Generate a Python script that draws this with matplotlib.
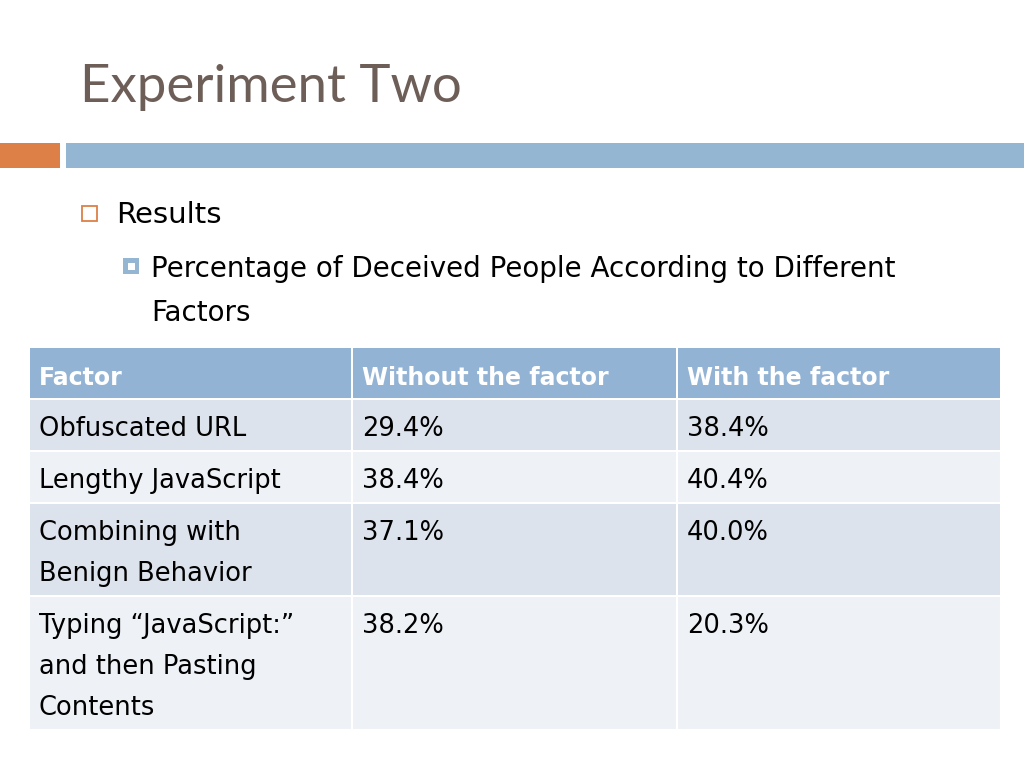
import matplotlib.pyplot as plt
from matplotlib.patches import Rectangle

# --- Data ---
title = "Experiment Two"
bullet1 = "Results"
bullet2 = ["Percentage of Deceived People According to Different", "Factors"]
headers = ["Factor", "Without the factor", "With the factor"]
factors = ["Obfuscated URL", "Lengthy JavaScript", "Combining with\nBenign Behavior",
           "Typing \u201cJavaScript:\u201d\nand then Pasting\nContents"]
without_factor = [29.4, 38.4, 37.1, 38.2]
with_factor = [38.4, 40.4, 40.0, 20.3]

# --- Styling ---
plt.rcParams['font.family'] = ["DejaVu Sans"]
TITLE_FONT = ["Lato", "DejaVu Sans"]
ORANGE = "#DD8047"
BLUE = "#94B6D2"
HEAD = "#93B3D4"
ROW_A = "#DCE3EC"
ROW_B = "#EEF2F7"
TITLE_C = "#6E5E58"

fig = plt.figure(figsize=(10.24, 7.68), dpi=100)
ax = fig.add_axes([0, 0, 1, 1])
ax.set_xlim(0, 1024)
ax.set_ylim(768, 0)
ax.axis('off')

# title and bars
ax.text(80, 102, title, fontsize=38, color=TITLE_C, va='baseline', ha='left', family=TITLE_FONT)
ax.add_patch(Rectangle((0, 143), 60, 25, color=ORANGE, lw=0))
ax.add_patch(Rectangle((66, 143), 958, 25, color=BLUE, lw=0))

# bullets
ax.add_patch(Rectangle((82, 206), 15, 15, fill=False, ec=ORANGE, lw=1.3))
ax.text(116, 223, bullet1, fontsize=21, va='baseline', ha='left')
ax.add_patch(Rectangle((123, 258), 16, 16, color=BLUE, lw=0))
ax.add_patch(Rectangle((127.5, 262.5), 7, 7, color='white', lw=0))
for i, line in enumerate(bullet2):
    ax.text(151, 277 + i * 44, line, fontsize=20, va='baseline', ha='left')

# table
col_x = [30, 353, 678, 1002]
gap = 2
top = 348
head_h = 50
for c, h in enumerate(headers):
    ax.add_patch(Rectangle((col_x[c], top), col_x[c + 1] - col_x[c] - gap, head_h, color=HEAD, lw=0))
    ax.text(col_x[c] + 9, top + 37, h, fontsize=17, fontweight='bold', color='white',
            va='baseline', ha='left')

y = top + head_h + gap
for r, name in enumerate(factors):
    n_lines = name.count("\n") + 1
    row_h = 9 + 41 * n_lines
    color = ROW_A if r % 2 == 0 else ROW_B
    cells = [name, f"{without_factor[r]:.1f}%", f"{with_factor[r]:.1f}%"]
    for c, txt in enumerate(cells):
        ax.add_patch(Rectangle((col_x[c], y), col_x[c + 1] - col_x[c] - gap, row_h, color=color, lw=0))
        for k, line in enumerate(txt.split("\n")):
            ax.text(col_x[c] + 9, y + 36 + k * 41, line, fontsize=18.5, color='black',
                    va='baseline', ha='left')
    y += row_h + gap

fig.savefig("out.png", dpi=100)
